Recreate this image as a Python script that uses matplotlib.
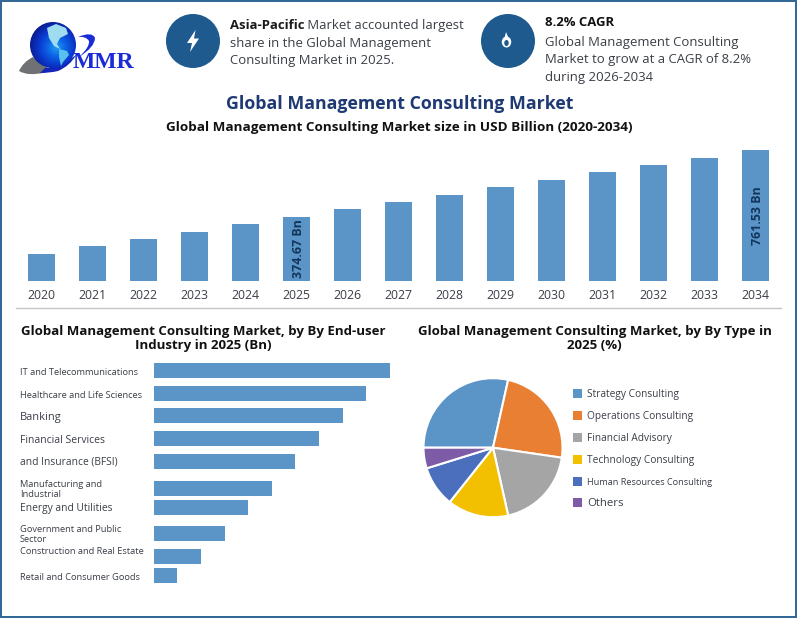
import numpy as np
import matplotlib
matplotlib.use('Agg')
import matplotlib.pyplot as plt
from matplotlib.colors import LinearSegmentedColormap
from matplotlib.patches import Circle, Polygon, Rectangle, PathPatch, Ellipse
from matplotlib.path import Path

plt.rcParams['font.family'] = ['Open Sans', 'DejaVu Sans']

W, H = 797, 618

# market size, USD billion
years = [2020, 2021, 2022, 2023, 2024, 2025, 2026, 2027, 2028, 2029, 2030, 2031, 2032, 2033, 2034]
market_size = [158, 204, 245, 286, 332, 374.67, 420, 461, 502, 548, 589, 636, 677, 714, 761.53]
labelled_years = [2025, 2034]

# end-user industry, 2025
industries = ['IT and Telecommunications', 'Healthcare and Life Sciences', 'Banking',
              'Financial Services', 'and Insurance (BFSI)', 'Manufacturing and\nIndustrial',
              'Energy and Utilities', 'Government and Public\nSector',
              'Construction and Real Estate', 'Retail and Consumer Goods']
industry_values = [68.2, 61.3, 54.6, 47.7, 40.8, 34.1, 27.2, 20.5, 13.6, 6.6]

# type, 2025
types = ['Strategy Consulting', 'Operations Consulting', 'Financial Advisory',
         'Technology Consulting', 'Human Resources Consulting', 'Others']
type_shares = [28.5, 23.8, 19.2, 14.2, 9.5, 4.8]
type_colors = ['#5b94c7', '#e97f33', '#a5a5a5', '#f2c000', '#4b6fbd', '#7e5ba6']

BAR = '#5b94c7'
BORDER = '#2f6496'
ICON = '#1f5a8f'
NAVY = '#1f3a73'
GREY_TEXT = '#3a3f47'


def px_axes(fig, left, top, right, bottom):
    return fig.add_axes([left / W, 1 - bottom / H, (right - left) / W, (bottom - top) / H])


fig = plt.figure(figsize=(W / 100, H / 100), dpi=100)

# overlay in pixel coordinates for the header and logo
bg = fig.add_axes([0, 0, 1, 1])
bg.set_xlim(0, W)
bg.set_ylim(H, 0)
bg.axis('off')
bg.add_patch(Rectangle((0.5, 0.5), W - 1.5, H - 1.5, fill=False, ec=BORDER, lw=1.4))

head = 9.45
t = bg.text(230, 25.5, 'Asia-Pacific', size=head, weight='bold', color='#1b1b1b', va='center')
bg.annotate(' Market accounted largest', xy=(1, 0.5), xycoords=t, size=head, color=GREY_TEXT, va='center')
bg.text(230, 43.5, 'share in the Global Management', size=head, color=GREY_TEXT, va='center')
bg.text(230, 60.5, 'Consulting Market in 2025.', size=head, color=GREY_TEXT, va='center')
bg.text(545, 23, '8.2% CAGR', size=head, weight='bold', color='#111111', va='center')
bg.text(545, 42.5, 'Global Management Consulting', size=head, color=GREY_TEXT, va='center')
bg.text(545, 59.5, 'Market to grow at a CAGR of 8.2%', size=head, color=GREY_TEXT, va='center')
bg.text(545, 77, 'during 2026-2034', size=head, color=GREY_TEXT, va='center')

bg.text(399.5, 104, 'Global Management Consulting Market', size=12.75, weight='bold', color=NAVY,
        ha='center', va='center')
bg.text(399, 127, 'Global Management Consulting Market size in USD Billion (2020-2034)', size=9.7,
        weight='bold', color='#111111', ha='center', va='center')
bg.plot([16, 781], [308, 308], color='#c4c6c9', lw=1)
bg.text(203, 338.5, 'Global Management Consulting Market, by By End-user\nIndustry in 2025 (Bn)', size=9.55,
        weight='bold', color='#111111', ha='center', va='center', linespacing=1.1)
bg.text(594.5, 338.5, 'Global Management Consulting Market, by By Type in\n2025 (%)', size=9.55,
        weight='bold', color='#111111', ha='center', va='center', linespacing=1.1)

# header badges
for cx in (193, 508):
    bg.add_patch(Circle((cx, 41), 27, fc=ICON, ec='none'))
bg.add_patch(Polygon([(195.5, 30), (187, 43), (192, 43), (190, 52), (199, 38.5), (194, 38.5)], fc='white', ec='none'))
bg.add_patch(Ellipse((506.5, 42), 9.5, 11, fc='white', ec='none'))
bg.add_patch(Ellipse((506.5, 43), 4.5, 6, fc=ICON, ec='none'))
bg.add_patch(Polygon([(506, 32), (504.5, 38), (508.5, 38)], fc='white', ec='none'))

# market size columns
ax = px_axes(fig, 16, 150, 781, 281)
ax.patch.set_alpha(0)
pos = np.arange(len(years))
ax.bar(pos, market_size, width=0.53, color=BAR)
ax.set_xlim(-0.5, len(years) - 0.5)
ax.set_ylim(0, max(market_size))
ax.set_yticks([])
ax.set_xticks(pos, [str(y) for y in years], size=8.8, color=GREY_TEXT)
ax.tick_params(axis='x', length=0, pad=6)
for s in ax.spines.values():
    s.set_visible(False)
for yr in labelled_years:
    i = years.index(yr)
    ax.text(i + 0.03, market_size[i] / 2, f'{market_size[i]:.2f} Bn', rotation=90, size=8.9, weight='bold',
            color='#12355b', ha='center', va='center')

# end-user bars
row_h = 22.8
row_nudge = [0, 0, 0, 0, 0, 4, 0, 3.4, 3.6, 0]  # rows are not evenly spaced in the original
label_dy = [-2, -2, -1.5, -2, -0.5, -1, -1, -1, 4.5, -2]
label_size = [6.7, 6.7, 7.9, 7.5, 7.4, 6.7, 7.4, 6.7, 6.7, 6.7]
rows = np.arange(len(industries)) + np.array(row_nudge) / row_h
ax2 = px_axes(fig, 154, 370.3 - row_h / 2, 390, 575.5 + row_h / 2)
ax2.patch.set_alpha(0)
ax2.barh(rows, industry_values, height=15 / row_h, color=BAR)
ax2.set_xlim(0, max(industry_values))
ax2.set_ylim(len(industries) - 0.5, -0.5)
ax2.axis('off')
for r, name, dy, fs in zip(rows, industries, label_dy, label_size):
    ax2.annotate(name, xy=(0, r), xytext=(-134 * 0.72, dy * 0.72), textcoords='offset points',
                 size=fs, color=GREY_TEXT, ha='left', va='center', linespacing=1.2, annotation_clip=False)

# type pie
ax3 = px_axes(fig, 493 - 70, 447.7 - 70, 493 + 70, 447.7 + 70)
wedges, _ = ax3.pie(type_shares, colors=type_colors, startangle=180, counterclock=False, radius=1,
                    wedgeprops={'edgecolor': 'white', 'linewidth': 1.5})
ax3.set_xlim(-70 / 69.5, 70 / 69.5)
ax3.set_ylim(-70 / 69.5, 70 / 69.5)
leg = ax3.legend(wedges, types, loc='center left', bbox_to_anchor=(1.07, 0.492), frameon=False,
                 handlelength=0.95, handleheight=0.95, handletextpad=0.45, labelspacing=1.09, fontsize=7.3,
                 labelcolor=GREY_TEXT, borderpad=0, borderaxespad=0)
leg.get_texts()[4].set_fontsize(6.55)
leg.get_texts()[5].set_fontsize(8.2)
for h in leg.legend_handles:
    h.set_edgecolor('none')

# logo last so its image does not disturb the pixel limits
C3 = Path.CURVE3
swoosh = Path([(19, 71), (23, 62), (33, 57), (48, 68), (60, 66), (45, 75), (30, 74), (24, 74), (19, 71)],
              [Path.MOVETO, C3, C3, Path.LINETO, Path.LINETO, C3, C3, C3, C3])
bg.add_patch(PathPatch(swoosh, fc='#6f7175', ec='none', zorder=1))
tail = Path([(45, 68), (60, 67), (76, 55), (70, 66), (58, 71), (50, 73), (40, 73), (45, 68)],
            [Path.MOVETO, C3, C3, C3, C3, C3, C3, Path.LINETO])
bg.add_patch(PathPatch(tail, fc='#1326b8', ec='none', zorder=1))
yy, xx = np.mgrid[-1:1:120j, -1:1:120j]
glow = np.clip(np.hypot(xx - 0.15, yy - 0.1), 0, 1.2)
globe = bg.imshow(glow, extent=(30, 76, 68, 22), zorder=2, aspect='auto',
                  cmap=LinearSegmentedColormap.from_list('globe', ['#1f9cf2', '#0c62e6', '#0a35c8', '#0a1a8c']))
globe.set_clip_path(Circle((53, 45), 23, transform=bg.transData))
bg.set_xlim(0, W)
bg.set_ylim(H, 0)
bg.add_patch(Polygon([(47, 28), (56, 24), (66, 28), (68, 34), (60, 38), (57, 44), (60, 49), (54, 46), (49, 38)],
                     fc='#9fdcf0', ec='none', zorder=3))
bg.add_patch(Polygon([(59, 49), (67, 51), (69, 55), (63, 62), (61, 66), (59, 57)], fc='#58c0ee', ec='none', zorder=3))
hook = Path([(78, 37), (92, 31), (95, 38), (95, 47), (79, 57), (90, 47), (89, 41), (86, 36), (78, 37)],
            [Path.MOVETO, C3, C3, C3, C3, C3, C3, C3, C3])
bg.add_patch(PathPatch(hook, fc='#1a2bd8', ec='none'))
bg.text(103, 62, 'MMR', family='Liberation Serif', weight='bold', size=17, color='#1a2bd8',
        ha='center', va='center', zorder=4)

fig.savefig('out.png', dpi=100)
